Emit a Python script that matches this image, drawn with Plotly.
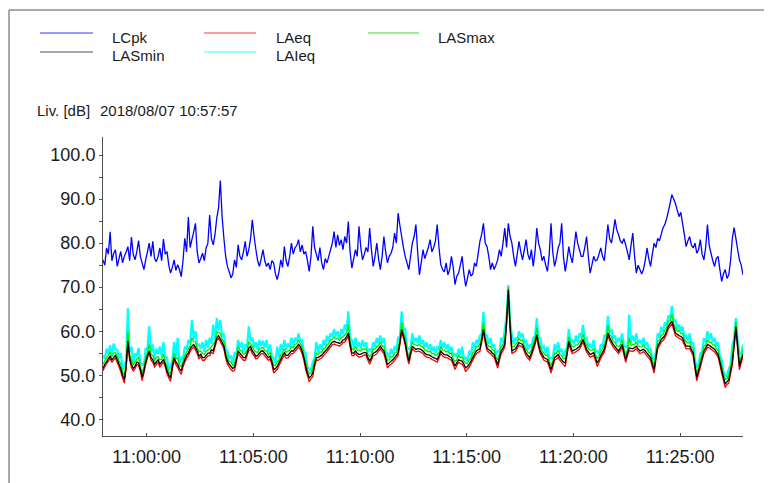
import plotly.graph_objects as go
import pandas as pd

# ---- data (5-second samples) ----
start_time = "2018-08-07 10:57:57"
step_seconds = 5
header_label = "Liv. [dB]"
header_time = "2018/08/07 10:57:57"

LCpk = [
    76.2, 75.0, 78.9, 77.5, 82.6, 76.0, 77.7, 78.5, 74.7, 76.5,
    78.1, 75.5, 77.0, 78.0, 79.2, 76.0, 81.4, 77.5, 76.2, 78.0,
    80.6, 77.0, 75.5, 74.0, 76.2, 78.0, 80.0, 77.0, 80.4, 76.5,
    75.8, 77.0, 78.9, 76.0, 80.9, 77.5, 78.1, 75.0, 73.2, 74.5,
    76.2, 73.8, 75.1, 74.0, 72.4, 76.0, 81.1, 78.0, 85.9, 79.0,
    80.8, 82.5, 84.5, 78.0, 75.5, 76.5, 77.7, 76.0, 78.9, 80.0,
    86.4, 81.0, 79.6, 82.0, 85.7, 88.0, 94.2, 86.0, 81.1, 77.0,
    74.7, 73.5, 72.1, 73.0, 76.2, 74.5, 79.6, 77.0, 76.2, 78.0,
    80.4, 77.0, 78.5, 81.0, 85.3, 81.5, 78.5, 76.0, 74.7, 76.5,
    78.5, 76.0, 74.7, 75.5, 74.0, 76.0, 75.5, 73.0, 71.7, 73.5,
    76.2, 74.5, 79.2, 76.0, 74.7, 77.0, 80.0, 77.5, 78.9, 79.5,
    80.8, 78.0, 79.6, 77.5, 78.1, 76.0, 73.6, 77.0, 83.8, 79.0,
    77.5, 76.0, 79.0, 75.5, 74.0, 76.5, 75.5, 77.0, 78.5, 80.0,
    82.6, 79.0, 81.9, 79.5, 80.8, 78.5, 81.5, 80.0, 84.9, 78.0,
    74.3, 76.5, 78.5, 77.0, 83.8, 79.0, 76.2, 77.5, 79.0, 78.0,
    83.4, 78.5, 74.7, 77.0, 80.0, 76.5, 74.0, 77.0, 81.5, 78.0,
    75.5, 77.0, 77.7, 79.0, 82.3, 80.0, 86.8, 84.0, 81.5, 79.0,
    77.0, 75.5, 74.0, 77.0, 80.0, 81.5, 84.2, 78.0, 72.8, 75.5,
    78.5, 76.5, 77.7, 79.0, 80.8, 78.0, 79.0, 80.5, 84.2, 79.0,
    75.1, 74.0, 73.5, 75.5, 72.8, 74.0, 77.0, 74.5, 70.6, 72.5,
    73.2, 75.0, 77.0, 73.0, 70.2, 72.0, 74.0, 72.5, 73.0, 75.5,
    74.7, 77.5, 80.4, 82.0, 84.5, 80.0, 79.2, 77.0, 74.0, 75.5,
    74.0, 75.0, 76.2, 78.5, 77.0, 80.0, 83.4, 79.0, 84.5, 81.5,
    80.0, 77.0, 74.7, 77.5, 80.4, 78.0, 76.2, 78.5, 80.8, 77.5,
    76.2, 78.5, 74.7, 78.0, 83.4, 80.0, 78.5, 76.0, 77.0, 75.0,
    73.6, 77.5, 84.5, 78.0, 74.7, 76.5, 78.9, 80.0, 84.5, 77.0,
    73.6, 76.0, 79.2, 77.0, 75.5, 79.0, 82.6, 80.0, 78.5, 77.0,
    77.0, 79.0, 81.5, 77.0, 73.2, 75.0, 77.0, 76.0, 76.2, 77.5,
    78.9, 77.0, 76.0, 80.0, 84.2, 81.0, 80.0, 82.5, 85.4, 83.0,
    81.9, 80.5, 80.0, 81.0, 79.6, 78.0, 76.2, 79.5, 82.3, 77.0,
    73.2, 75.0, 74.0, 73.0, 74.0, 76.0, 78.9, 76.5, 74.7, 77.5,
    80.0, 79.0, 81.1, 80.5, 82.0, 83.5, 84.2, 85.5, 87.2, 89.0,
    91.0, 90.0, 89.0, 87.5, 86.0, 87.0, 84.5, 82.0, 79.2, 80.5,
    81.5, 79.5, 78.9, 80.0, 77.7, 78.5, 80.8, 77.5, 76.2, 79.0,
    84.2, 79.5, 77.7, 76.0, 74.7, 76.5, 77.0, 74.0, 71.3, 73.0,
    74.0, 72.0, 72.8, 76.0, 81.1, 83.5, 81.1, 78.5, 76.2, 75.0,
    72.8,
]

LASmin = [
    51.5, 52.5, 53.0, 53.8, 54.3, 53.5, 54.0, 54.5, 53.5, 52.5,
    51.5, 50.0, 49.0, 52.0, 57.8, 54.0, 52.4, 51.5, 52.0, 53.0,
    52.8, 51.5, 49.6, 51.0, 53.0, 54.5, 55.5, 54.0, 53.5, 52.5,
    53.0, 53.5, 52.5, 53.0, 53.6, 52.5, 51.0, 50.0, 49.4, 52.0,
    54.0, 53.0, 52.5, 51.5, 51.0, 52.5, 53.5, 54.5, 55.0, 56.0,
    56.6, 57.0, 56.4, 55.5, 54.3, 54.8, 54.0, 54.0, 54.5, 55.0,
    55.0, 55.8, 55.5, 57.0, 58.5, 59.0, 58.2, 57.5, 56.6, 54.5,
    53.2, 52.5, 52.0, 51.5, 51.9, 53.5, 55.5, 55.0, 54.5, 54.0,
    54.0, 55.0, 56.2, 56.5, 55.5, 55.0, 54.3, 54.5, 55.0, 55.5,
    55.5, 55.0, 54.5, 54.0, 54.3, 53.0, 51.3, 51.5, 52.0, 52.8,
    53.6, 54.5, 55.1, 54.5, 54.5, 55.0, 55.5, 55.5, 56.0, 56.5,
    57.0, 56.5, 55.5, 54.0, 52.1, 50.5, 49.4, 49.8, 50.5, 52.5,
    54.0, 54.0, 54.3, 54.5, 55.0, 55.5, 55.9, 56.5, 57.0, 57.5,
    57.7, 57.5, 57.4, 57.2, 57.5, 58.0, 58.1, 58.8, 59.6, 57.0,
    55.1, 55.0, 55.5, 55.0, 54.7, 54.8, 55.0, 55.2, 55.1, 54.0,
    53.2, 54.0, 55.0, 55.2, 55.5, 56.0, 56.6, 56.0, 55.5, 54.0,
    52.4, 52.8, 53.2, 53.5, 54.0, 54.5, 55.1, 57.5, 60.4, 59.0,
    57.4, 55.0, 53.2, 55.0, 56.6, 56.2, 55.9, 56.0, 56.0, 55.8,
    55.5, 55.0, 54.7, 54.6, 54.5, 54.2, 54.0, 53.8, 53.6, 54.5,
    55.5, 55.0, 54.7, 54.6, 54.5, 54.2, 54.0, 53.0, 52.1, 52.8,
    53.5, 53.3, 53.2, 52.5, 51.7, 52.0, 52.5, 53.2, 54.0, 54.8,
    55.5, 55.8, 56.0, 58.0, 60.4, 58.0, 56.2, 55.8, 55.5, 55.0,
    54.7, 53.5, 52.4, 54.0, 55.5, 56.2, 57.0, 62.0, 69.4, 61.0,
    55.5, 55.8, 56.0, 56.7, 57.4, 57.2, 57.0, 56.0, 55.0, 54.5,
    54.0, 55.0, 56.2, 57.5, 59.2, 57.0, 55.5, 54.8, 54.0, 53.8,
    53.6, 52.5, 51.3, 52.5, 54.0, 54.3, 54.7, 54.0, 53.5, 53.0,
    52.8, 55.0, 57.7, 56.5, 55.5, 55.7, 55.9, 56.2, 56.5, 57.3,
    58.1, 57.0, 55.9, 55.3, 54.7, 54.9, 55.1, 54.0, 52.8, 53.5,
    54.5, 55.2, 55.9, 57.5, 59.6, 58.5, 57.7, 57.0, 56.5, 56.0,
    55.5, 56.2, 57.0, 55.3, 53.6, 55.0, 56.2, 56.1, 56.0, 56.3,
    56.6, 56.0, 55.5, 55.7, 55.9, 55.5, 55.0, 54.5, 54.0, 52.5,
    51.3, 54.0, 56.6, 57.3, 58.1, 58.5, 59.0, 60.0, 61.1, 61.7,
    62.3, 61.0, 59.6, 59.3, 59.0, 58.8, 58.5, 57.5, 56.6, 56.6,
    56.6, 55.8, 55.0, 52.0, 49.5, 51.0, 52.5, 54.0, 55.5, 56.2,
    57.0, 56.8, 56.5, 56.2, 55.9, 55.3, 54.7, 53.0, 51.3, 49.5,
    48.0, 48.5, 49.0, 51.0, 53.0, 57.0, 61.0, 56.5, 52.0, 53.5,
    54.7,
]

LAIeq = [
    54.5, 53.8, 56.0, 55.0, 56.8, 54.8, 57.2, 55.8, 55.8, 53.8,
    55.0, 51.3, 52.0, 53.3, 65.2, 55.3, 56.5, 52.8, 55.0, 54.3,
    56.2, 52.8, 52.5, 52.3, 56.0, 55.8, 61.1, 55.3, 57.0, 53.8,
    56.0, 54.8, 56.5, 54.3, 57.5, 53.8, 54.0, 51.3, 52.0, 53.3,
    57.5, 54.3, 58.5, 52.8, 54.0, 53.8, 56.5, 55.8, 58.0, 57.3,
    62.6, 58.3, 60.0, 56.8, 57.0, 56.1, 57.5, 55.3, 58.0, 56.3,
    58.5, 57.1, 61.5, 58.3, 63.0, 60.3, 62.5, 58.8, 59.5, 55.8,
    55.5, 53.8, 54.5, 52.8, 55.0, 54.8, 58.0, 56.3, 57.5, 55.3,
    57.0, 56.3, 61.1, 57.8, 58.5, 56.3, 57.5, 55.8, 58.0, 56.8,
    57.8, 56.3, 58.0, 55.3, 57.0, 54.3, 54.0, 52.8, 56.5, 54.1,
    57.0, 55.8, 58.0, 55.8, 57.2, 56.3, 58.5, 56.8, 58.5, 57.8,
    59.5, 57.8, 58.0, 55.3, 55.0, 51.8, 51.5, 51.1, 53.0, 53.8,
    57.5, 55.3, 57.0, 55.8, 58.0, 56.8, 59.0, 57.8, 59.5, 58.8,
    60.5, 58.8, 60.0, 58.5, 60.5, 59.3, 61.5, 60.1, 64.5, 58.3,
    58.0, 56.3, 58.5, 56.3, 57.5, 56.1, 58.0, 56.5, 57.5, 55.3,
    56.0, 55.3, 57.5, 56.5, 58.5, 57.3, 59.0, 57.3, 58.5, 55.3,
    55.0, 54.1, 56.0, 54.8, 56.5, 55.8, 58.5, 58.8, 64.5, 60.3,
    60.5, 56.3, 56.0, 56.3, 59.5, 57.5, 58.5, 57.3, 59.0, 57.1,
    58.0, 56.3, 57.5, 55.9, 57.0, 55.5, 56.5, 55.1, 56.5, 55.8,
    58.0, 56.3, 57.5, 55.9, 57.0, 55.5, 56.5, 54.3, 55.0, 54.1,
    56.0, 54.6, 56.5, 53.8, 54.0, 53.3, 55.5, 54.5, 57.5, 56.1,
    58.0, 57.1, 59.0, 59.3, 64.4, 59.3, 59.0, 57.1, 58.5, 56.3,
    57.0, 54.8, 55.5, 55.3, 58.5, 57.5, 60.5, 63.3, 70.5, 62.3,
    59.0, 57.1, 58.5, 58.0, 60.0, 58.5, 59.5, 57.3, 58.0, 55.8,
    57.0, 56.3, 58.5, 58.8, 63.0, 58.3, 58.5, 56.1, 56.5, 55.1,
    56.5, 53.8, 54.0, 53.8, 57.0, 55.6, 57.5, 55.3, 56.0, 54.3,
    55.5, 56.3, 60.5, 57.8, 58.0, 57.0, 59.0, 57.5, 59.5, 58.6,
    61.5, 58.3, 58.5, 56.6, 57.0, 56.2, 58.0, 55.3, 55.5, 54.8,
    57.0, 56.5, 59.0, 58.8, 63.4, 59.8, 60.5, 58.3, 59.0, 57.3,
    58.5, 57.5, 59.5, 56.6, 56.5, 56.3, 63.8, 57.4, 59.0, 57.6,
    59.5, 57.3, 58.0, 57.0, 58.5, 56.8, 57.5, 55.8, 56.0, 53.8,
    53.5, 55.3, 59.5, 58.6, 61.0, 59.8, 62.0, 61.3, 63.5, 63.0,
    65.7, 62.3, 62.5, 60.6, 61.5, 60.1, 61.0, 58.8, 59.0, 57.9,
    59.5, 57.1, 57.5, 53.3, 52.0, 52.3, 55.0, 55.3, 58.5, 57.5,
    60.0, 58.1, 59.5, 57.5, 58.5, 56.6, 57.5, 54.3, 53.5, 50.8,
    50.0, 49.8, 51.5, 52.3, 57.0, 58.3, 63.0, 57.8, 55.0, 54.8,
    57.0,
]

LASmax = [
    52.5, 53.2, 54.0, 54.5, 55.3, 54.2, 55.0, 55.2, 54.3, 53.2,
    52.5, 50.7, 50.0, 52.7, 60.0, 54.7, 53.5, 52.2, 53.0, 53.7,
    54.0, 52.2, 50.5, 51.7, 54.0, 55.2, 57.0, 54.7, 54.5, 53.2,
    54.0, 54.2, 53.5, 53.7, 54.8, 53.2, 52.0, 50.7, 50.3, 52.7,
    55.0, 53.7, 54.0, 52.2, 52.0, 53.2, 54.5, 55.2, 56.0, 56.7,
    58.5, 57.7, 57.5, 56.2, 55.3, 55.5, 55.0, 54.7, 55.5, 55.7,
    56.0, 56.5, 57.0, 57.7, 59.8, 59.7, 59.5, 58.2, 57.6, 55.2,
    54.0, 53.2, 53.0, 52.2, 52.8, 54.2, 56.5, 55.7, 55.5, 54.7,
    55.0, 55.7, 57.5, 57.2, 56.5, 55.7, 55.3, 55.2, 56.0, 56.2,
    56.3, 55.7, 55.5, 54.7, 55.3, 53.7, 52.2, 52.2, 53.0, 53.5,
    54.6, 55.2, 56.0, 55.2, 55.5, 55.7, 56.5, 56.2, 57.0, 57.2,
    58.0, 57.2, 56.5, 54.7, 53.0, 51.2, 50.3, 50.5, 51.5, 53.2,
    55.0, 54.7, 55.3, 55.2, 56.0, 56.2, 56.9, 57.2, 58.0, 58.2,
    58.7, 58.2, 58.4, 57.9, 58.5, 58.7, 59.2, 59.5, 61.5, 57.7,
    56.1, 55.7, 56.5, 55.7, 55.7, 55.5, 56.0, 55.9, 56.0, 54.7,
    54.2, 54.7, 56.0, 55.9, 56.5, 56.7, 57.6, 56.7, 56.5, 54.7,
    53.4, 53.5, 54.2, 54.2, 55.0, 55.2, 56.2, 58.2, 62.0, 59.7,
    58.5, 55.7, 54.2, 55.7, 57.6, 56.9, 56.9, 56.7, 57.0, 56.5,
    56.5, 55.7, 55.7, 55.3, 55.5, 54.9, 55.0, 54.5, 54.6, 55.2,
    56.5, 55.7, 55.7, 55.3, 55.5, 54.9, 55.0, 53.7, 53.1, 53.5,
    54.5, 54.0, 54.2, 53.2, 52.7, 52.7, 53.5, 53.9, 55.0, 55.5,
    56.5, 56.5, 57.0, 58.7, 62.0, 58.7, 57.2, 56.5, 56.5, 55.7,
    55.7, 54.2, 53.4, 54.7, 56.5, 56.9, 58.0, 62.7, 70.0, 61.7,
    56.5, 56.5, 57.0, 57.4, 58.4, 57.9, 58.0, 56.7, 56.0, 55.2,
    55.0, 55.7, 57.2, 58.2, 60.8, 57.7, 56.5, 55.5, 55.0, 54.5,
    54.6, 53.2, 52.3, 53.2, 55.0, 55.0, 55.7, 54.7, 54.5, 53.7,
    53.8, 55.7, 58.7, 57.2, 56.5, 56.4, 56.9, 56.9, 57.5, 58.0,
    59.3, 57.7, 56.9, 56.0, 55.7, 55.6, 56.1, 54.7, 53.8, 54.2,
    55.5, 55.9, 56.9, 58.2, 61.2, 59.2, 58.7, 57.7, 57.5, 56.7,
    56.5, 56.9, 58.0, 56.0, 54.6, 55.7, 58.5, 56.8, 57.0, 57.0,
    57.6, 56.7, 56.5, 56.4, 56.9, 56.2, 56.0, 55.2, 55.0, 53.2,
    52.3, 54.7, 57.6, 58.0, 59.1, 59.2, 60.2, 60.7, 62.3, 62.4,
    63.8, 61.7, 60.8, 60.0, 60.2, 59.5, 59.5, 58.2, 57.6, 57.3,
    57.6, 56.5, 56.0, 52.7, 50.5, 51.7, 53.5, 54.7, 56.5, 56.9,
    58.0, 57.5, 57.5, 56.9, 56.9, 56.0, 55.7, 53.7, 52.3, 50.2,
    49.0, 49.2, 50.0, 51.7, 54.5, 57.7, 62.2, 57.2, 53.0, 54.2,
    55.7,
]

LAeq = [
    51.0, 51.9, 52.6, 53.2, 53.9, 52.9, 53.5, 53.9, 52.9, 51.9,
    50.8, 49.4, 48.2, 51.4, 57.0, 53.4, 51.8, 50.9, 51.5, 52.4,
    52.2, 50.9, 48.8, 50.4, 52.4, 53.9, 55.0, 53.4, 52.9, 51.9,
    52.4, 52.9, 51.9, 52.4, 53.0, 51.9, 50.3, 49.4, 48.6, 51.4,
    53.4, 52.4, 51.8, 50.9, 50.2, 51.9, 52.9, 53.9, 54.4, 55.4,
    56.0, 56.4, 55.8, 54.9, 53.7, 54.2, 53.4, 53.4, 53.9, 54.4,
    54.4, 55.2, 54.9, 56.4, 57.9, 58.4, 57.6, 56.9, 56.0, 53.9,
    52.5, 51.9, 51.3, 50.9, 51.1, 52.9, 54.9, 54.4, 53.9, 53.4,
    53.4, 54.4, 55.6, 55.9, 54.9, 54.4, 53.7, 53.9, 54.4, 54.9,
    54.9, 54.4, 53.9, 53.4, 53.7, 52.4, 50.5, 50.9, 51.3, 52.2,
    53.0, 53.9, 54.5, 53.9, 53.9, 54.4, 54.9, 54.9, 55.4, 55.9,
    56.4, 55.9, 54.9, 53.4, 51.3, 49.9, 48.5, 49.2, 49.7, 51.9,
    53.4, 53.4, 53.7, 53.9, 54.4, 54.9, 55.3, 55.9, 56.4, 56.9,
    57.1, 56.9, 56.8, 56.6, 56.9, 57.4, 57.5, 58.2, 59.0, 56.4,
    54.5, 54.4, 54.9, 54.4, 54.1, 54.2, 54.4, 54.6, 54.5, 53.4,
    52.5, 53.4, 54.4, 54.6, 54.9, 55.4, 56.0, 55.4, 54.9, 53.4,
    51.6, 52.2, 52.5, 52.9, 53.4, 53.9, 54.5, 56.9, 59.8, 58.4,
    56.8, 54.4, 52.5, 54.4, 56.0, 55.6, 55.3, 55.4, 55.4, 55.2,
    54.9, 54.4, 54.1, 54.0, 53.9, 53.6, 53.4, 53.2, 53.0, 53.9,
    54.9, 54.4, 54.1, 54.0, 53.9, 53.6, 53.4, 52.4, 51.3, 52.2,
    52.9, 52.7, 52.5, 51.9, 50.8, 51.4, 51.8, 52.6, 53.4, 54.2,
    54.9, 55.2, 55.4, 57.4, 59.8, 57.4, 55.6, 55.2, 54.9, 54.4,
    54.1, 52.9, 51.6, 53.4, 54.9, 55.6, 56.4, 61.4, 68.8, 60.4,
    54.9, 55.2, 55.4, 56.1, 56.8, 56.6, 56.4, 55.4, 54.4, 53.9,
    53.4, 54.4, 55.6, 56.9, 58.6, 56.4, 54.9, 54.2, 53.4, 53.2,
    53.0, 51.9, 50.5, 51.9, 53.4, 53.7, 54.1, 53.4, 52.9, 52.4,
    52.0, 54.4, 57.1, 55.9, 54.9, 55.1, 55.3, 55.6, 55.9, 56.7,
    57.5, 56.4, 55.3, 54.7, 54.1, 54.3, 54.5, 53.4, 52.0, 52.9,
    53.9, 54.6, 55.3, 56.9, 59.0, 57.9, 57.1, 56.4, 55.9, 55.4,
    54.9, 55.6, 56.4, 54.7, 52.9, 54.4, 55.6, 55.5, 55.4, 55.7,
    56.0, 55.4, 54.9, 55.1, 55.3, 54.9, 54.4, 53.9, 53.4, 51.9,
    50.5, 53.4, 56.0, 56.7, 57.5, 57.9, 58.4, 59.4, 60.5, 61.1,
    61.7, 60.4, 59.0, 58.7, 58.4, 58.2, 57.9, 56.9, 56.0, 56.0,
    56.0, 55.2, 54.4, 51.4, 48.7, 50.4, 51.8, 53.4, 54.9, 55.6,
    56.4, 56.2, 55.9, 55.6, 55.3, 54.7, 54.1, 52.4, 50.5, 48.9,
    47.2, 47.9, 48.2, 50.4, 52.3, 56.4, 60.4, 55.9, 51.2, 52.9,
    54.1,
]

times = pd.date_range(start=start_time, periods=len(LCpk), freq=f"{step_seconds}s")

# ---- geometry (page pixels; the page body has an 8px margin) ----
OFF = 8
W, H = 772 - OFF, 483 - OFF
L, R, T, B = 103 - OFF, 29, 137 - OFF, 47
PW, PH = W - L - R, H - T - B


def px(xp):
    return (xp - OFF - L) / PW


def py(yp):
    return (H - B - (yp - OFF)) / PH


fig = go.Figure()
traces = [
    ("LCpk", LCpk, "#0000ff", 1.3),
    ("LAIeq", LAIeq, "#00ffff", 2.2),
    ("LASmax", LASmax, "#00ee00", 1.4),
    ("LAeq", LAeq, "#ff0000", 1.3),
    ("LASmin", LASmin, "#000000", 1.3),
]
for name, vals, col, lw in traces:
    fig.add_trace(go.Scatter(x=times, y=vals, mode="lines", name=name,
                             line=dict(color=col, width=lw, simplify=False), showlegend=False,
                             hoverinfo="skip"))

font_fam = "Liberation Sans, Arial, sans-serif"
axis_col = "#505050"
txt_col = "#1a1a1a"

fig.update_layout(
    width=W, height=H,
    margin=dict(l=L, r=R, t=T, b=B, pad=0),
    paper_bgcolor="white", plot_bgcolor="white",
    font=dict(family=font_fam, color=txt_col),
    showlegend=False,
)
fig.update_xaxes(
    type="date",
    range=["2018-08-07 10:57:57", "2018-08-07 11:27:57"],
    tickformat="%H:%M:%S",
    tick0="2018-08-07 11:00:00", dtick=300000,
    showgrid=False, zeroline=False,
    showline=True, linecolor=axis_col, linewidth=1,
    ticks="inside", ticklen=3, tickcolor=axis_col,
    tickfont=dict(size=18, family=font_fam, color=txt_col),
    ticklabelstandoff=4,
)
fig.update_yaxes(
    range=[36.2, 104.1],
    tick0=0, dtick=10, tickformat=".1f",
    showgrid=False, zeroline=False,
    showline=True, linecolor=axis_col, linewidth=1,
    ticks="outside", ticklen=3, tickcolor=axis_col,
    minor=dict(dtick=5, ticks="outside", ticklen=3, tickcolor=axis_col, showgrid=False),
    tickfont=dict(size=18, family=font_fam, color=txt_col),
    ticklabelstandoff=0,
)

shapes = []
# outer frame (top and left edges)
shapes.append(dict(type="line", xref="paper", yref="paper", x0=px(9), x1=px(772), y0=py(10), y1=py(10),
                   line=dict(color="#555555", width=1)))
shapes.append(dict(type="line", xref="paper", yref="paper", x0=px(9), x1=px(9), y0=py(10), y1=py(483),
                   line=dict(color="#555555", width=1)))

legend_items = [
    ("LCpk", "#9999ff", 40, 93, 111, 33),
    ("LAeq", "#ff9999", 204, 256, 275, 33),
    ("LASmax", "#99ee99", 368, 419, 437, 33),
    ("LASmin", "#a8a8a8", 40, 93, 111, 52),
    ("LAIeq", "#99ffff", 204, 256, 275, 52),
]
annotations = []
for name, col, x0, x1, tx, yy in legend_items:
    shapes.append(dict(type="line", xref="paper", yref="paper", x0=px(x0), x1=px(x1), y0=py(yy), y1=py(yy),
                       line=dict(color=col, width=2)))
    annotations.append(dict(text=name, xref="paper", yref="paper", x=px(tx - 1), y=py(yy + 4),
                            xanchor="left", yanchor="middle", showarrow=False,
                            font=dict(size=15, family=font_fam, color=txt_col)))

annotations.append(dict(text=header_label, xref="paper", yref="paper", x=px(35), y=py(110),
                        xanchor="left", yanchor="middle", showarrow=False,
                        font=dict(size=15, family=font_fam, color=txt_col)))
annotations.append(dict(text=header_time, xref="paper", yref="paper", x=px(98), y=py(110),
                        xanchor="left", yanchor="middle", showarrow=False,
                        font=dict(size=15, family=font_fam, color=txt_col)))

fig.update_layout(shapes=shapes, annotations=annotations)
fig.write_html("out.html")
